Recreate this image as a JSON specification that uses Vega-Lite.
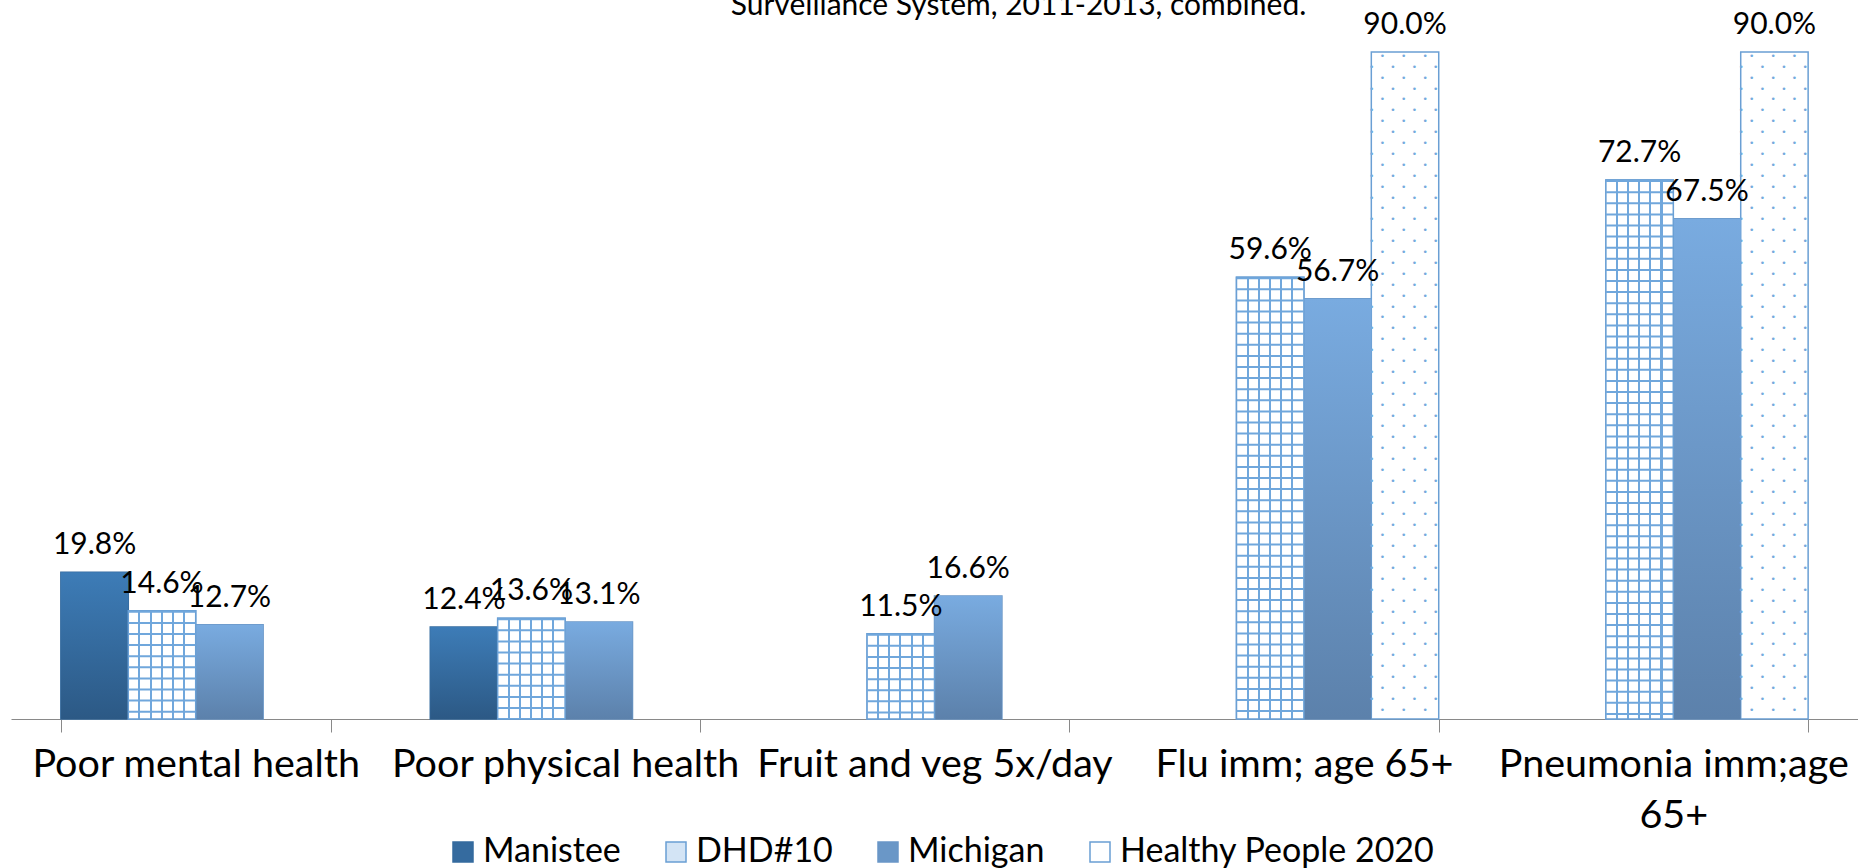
{
  "$schema": "https://vega.github.io/schema/vega-lite/v6.json",
  "width": 1847,
  "height": 719,
  "autosize": {"type": "none"},
  "padding": {"left": 11, "top": 0, "right": 0, "bottom": 149},
  "background": "white",
  "title": {"text": "Surveillance System, 2011-2013, combined.", "font": "Lato", "fontSize": 30, "fontWeight": "normal", "color": "black", "anchor": "middle", "dx": 84, "offset": -45, "baseline": "alphabetic"},
  "config": {
    "view": {"stroke": null},
    "font": "Lato",
    "legend": {"orient": "none", "legendX": 435, "legendY": 835, "direction": "horizontal", "title": null, "symbolType": "square", "symbolSize": 400, "labelFontSize": 34, "labelFont": "Lato", "labelColor": "black", "columnPadding": 38, "labelOffset": 3, "symbolStrokeWidth": 1.5, "labelLimit": 0}
  },
  "data": {"values": [
    {"category": "Poor mental health", "series": "Manistee", "value": 0.198},
    {"category": "Poor mental health", "series": "DHD#10", "value": 0.146},
    {"category": "Poor mental health", "series": "Michigan", "value": 0.127},
    {"category": "Poor physical health", "series": "Manistee", "value": 0.124},
    {"category": "Poor physical health", "series": "DHD#10", "value": 0.136},
    {"category": "Poor physical health", "series": "Michigan", "value": 0.131},
    {"category": "Fruit and veg 5x/day", "series": "DHD#10", "value": 0.115},
    {"category": "Fruit and veg 5x/day", "series": "Michigan", "value": 0.166},
    {"category": "Flu imm; age 65+", "series": "DHD#10", "value": 0.596},
    {"category": "Flu imm; age 65+", "series": "Michigan", "value": 0.567},
    {"category": "Flu imm; age 65+", "series": "Healthy People 2020", "value": 0.9},
    {"category": "Pneumonia imm;age 65+", "series": "DHD#10", "value": 0.727},
    {"category": "Pneumonia imm;age 65+", "series": "Michigan", "value": 0.675},
    {"category": "Pneumonia imm;age 65+", "series": "Healthy People 2020", "value": 0.9}
  ]},
  "encoding": {
    "x": {"field": "category", "type": "nominal", "title": null,
      "sort": ["Poor mental health", "Poor physical health", "Fruit and veg 5x/day", "Flu imm; age 65+", "Pneumonia imm;age 65+"],
      "scale": {"paddingInner": 0.27, "paddingOuter": 0.135},
      "axis": {"labelAngle": 0, "labelFont": "Lato", "labelFontSize": 39.5, "labelColor": "black", "labelPadding": 13, "labelLineHeight": 51, "labelBaseline": "top", "labelLimit": 600, "tickBand": "extent", "tickColor": "#898989", "tickSize": 13, "domainColor": "#898989", "labelExpr": "datum.value == 'Pneumonia imm;age 65+' ? ['Pneumonia imm;age', '65+'] : datum.label"}},
    "xOffset": {"field": "series", "type": "nominal", "scale": {"domain": ["Manistee", "DHD#10", "Michigan", "Healthy People 2020"]}},
    "y": {"field": "value", "type": "quantitative", "scale": {"domain": [0, 0.97]}, "axis": null}
  },
  "layer": [
    {
      "mark": {"type": "bar", "strokeWidth": 1.5},
      "encoding": {
        "fill": {"field": "series", "type": "nominal", "scale": {"domain": ["Manistee", "DHD#10", "Michigan", "Healthy People 2020"], "range": ["#356B9F", "#D3E4F5", "#6A97C7", "#ffffff"]}},
        "stroke": {"field": "series", "type": "nominal", "scale": {"domain": ["Manistee", "DHD#10", "Michigan", "Healthy People 2020"], "range": ["#356B9F", "#6A9FD4", "#6A97C7", "#6A9FD4"]}}
      }
    },
    {
      "transform": [{"filter": "datum.series === 'Manistee'"}],
      "mark": {"type": "bar", "fill": {"gradient": "linear", "x1": 1, "y1": 0, "x2": 1, "y2": 1, "stops": [{"offset": 0, "color": "#3D7CB7"}, {"offset": 1, "color": "#2C5985"}]}}
    },
    {
      "transform": [{"filter": "datum.series === 'Michigan'"}],
      "mark": {"type": "bar", "fill": {"gradient": "linear", "x1": 1, "y1": 0, "x2": 1, "y2": 1, "stops": [{"offset": 0, "color": "#79ABE0"}, {"offset": 1, "color": "#5C81AB"}]}}
    },
    {
      "transform": [{"filter": "datum.series === 'DHD#10'"}],
      "mark": {"type": "bar", "stroke": "#6A9FD4", "strokeWidth": 1.5, "fill": {"gradient": "linear", "x1": 0, "y1": 0, "x2": 1, "y2": 0, "stops": [
            {"offset": 0, "color": "#ffffff"},
            {"offset": 0.15, "color": "#ffffff"}, {"offset": 0.15, "color": "#70A7DC"}, {"offset": 0.18, "color": "#70A7DC"}, {"offset": 0.18, "color": "#ffffff"},
            {"offset": 0.315, "color": "#ffffff"}, {"offset": 0.315, "color": "#70A7DC"}, {"offset": 0.345, "color": "#70A7DC"}, {"offset": 0.345, "color": "#ffffff"},
            {"offset": 0.48, "color": "#ffffff"}, {"offset": 0.48, "color": "#70A7DC"}, {"offset": 0.51, "color": "#70A7DC"}, {"offset": 0.51, "color": "#ffffff"},
            {"offset": 0.645, "color": "#ffffff"}, {"offset": 0.645, "color": "#70A7DC"}, {"offset": 0.675, "color": "#70A7DC"}, {"offset": 0.675, "color": "#ffffff"},
            {"offset": 0.81, "color": "#ffffff"}, {"offset": 0.81, "color": "#70A7DC"}, {"offset": 0.84, "color": "#70A7DC"}, {"offset": 0.84, "color": "#ffffff"},
            {"offset": 1, "color": "#ffffff"}]}}
    },
    {
      "transform": [{"filter": "datum.series === 'DHD#10'"}],
      "mark": {"type": "rule", "strokeWidth": 67, "strokeDash": [2, 9.1], "stroke": "#70A7DC"},
      "encoding": {"y2": {"datum": 0}}
    },
    {
      "transform": [{"filter": "datum.series === 'Healthy People 2020'"}],
      "mark": {"type": "text", "font": "DejaVu Sans Mono", "fontSize": 8.9, "lineHeight": 10.9, "baseline": "top", "align": "center", "color": "#74AADD", "dx": -1.3, "dy": 0,
        "text": [
          "•\u00a0\u00a0\u00a0•\u00a0\u00a0\u00a0•", "•\u00a0\u00a0\u00a0•\u00a0\u00a0\u00a0•\u00a0\u00a0\u00a0•",
          "•\u00a0\u00a0\u00a0•\u00a0\u00a0\u00a0•", "•\u00a0\u00a0\u00a0•\u00a0\u00a0\u00a0•\u00a0\u00a0\u00a0•",
          "•\u00a0\u00a0\u00a0•\u00a0\u00a0\u00a0•", "•\u00a0\u00a0\u00a0•\u00a0\u00a0\u00a0•\u00a0\u00a0\u00a0•",
          "•\u00a0\u00a0\u00a0•\u00a0\u00a0\u00a0•", "•\u00a0\u00a0\u00a0•\u00a0\u00a0\u00a0•\u00a0\u00a0\u00a0•",
          "•\u00a0\u00a0\u00a0•\u00a0\u00a0\u00a0•", "•\u00a0\u00a0\u00a0•\u00a0\u00a0\u00a0•\u00a0\u00a0\u00a0•",
          "•\u00a0\u00a0\u00a0•\u00a0\u00a0\u00a0•", "•\u00a0\u00a0\u00a0•\u00a0\u00a0\u00a0•\u00a0\u00a0\u00a0•",
          "•\u00a0\u00a0\u00a0•\u00a0\u00a0\u00a0•", "•\u00a0\u00a0\u00a0•\u00a0\u00a0\u00a0•\u00a0\u00a0\u00a0•",
          "•\u00a0\u00a0\u00a0•\u00a0\u00a0\u00a0•", "•\u00a0\u00a0\u00a0•\u00a0\u00a0\u00a0•\u00a0\u00a0\u00a0•",
          "•\u00a0\u00a0\u00a0•\u00a0\u00a0\u00a0•", "•\u00a0\u00a0\u00a0•\u00a0\u00a0\u00a0•\u00a0\u00a0\u00a0•",
          "•\u00a0\u00a0\u00a0•\u00a0\u00a0\u00a0•", "•\u00a0\u00a0\u00a0•\u00a0\u00a0\u00a0•\u00a0\u00a0\u00a0•",
          "•\u00a0\u00a0\u00a0•\u00a0\u00a0\u00a0•", "•\u00a0\u00a0\u00a0•\u00a0\u00a0\u00a0•\u00a0\u00a0\u00a0•",
          "•\u00a0\u00a0\u00a0•\u00a0\u00a0\u00a0•", "•\u00a0\u00a0\u00a0•\u00a0\u00a0\u00a0•\u00a0\u00a0\u00a0•",
          "•\u00a0\u00a0\u00a0•\u00a0\u00a0\u00a0•", "•\u00a0\u00a0\u00a0•\u00a0\u00a0\u00a0•\u00a0\u00a0\u00a0•",
          "•\u00a0\u00a0\u00a0•\u00a0\u00a0\u00a0•", "•\u00a0\u00a0\u00a0•\u00a0\u00a0\u00a0•\u00a0\u00a0\u00a0•",
          "•\u00a0\u00a0\u00a0•\u00a0\u00a0\u00a0•", "•\u00a0\u00a0\u00a0•\u00a0\u00a0\u00a0•\u00a0\u00a0\u00a0•",
          "•\u00a0\u00a0\u00a0•\u00a0\u00a0\u00a0•", "•\u00a0\u00a0\u00a0•\u00a0\u00a0\u00a0•\u00a0\u00a0\u00a0•",
          "•\u00a0\u00a0\u00a0•\u00a0\u00a0\u00a0•", "•\u00a0\u00a0\u00a0•\u00a0\u00a0\u00a0•\u00a0\u00a0\u00a0•",
          "•\u00a0\u00a0\u00a0•\u00a0\u00a0\u00a0•", "•\u00a0\u00a0\u00a0•\u00a0\u00a0\u00a0•\u00a0\u00a0\u00a0•",
          "•\u00a0\u00a0\u00a0•\u00a0\u00a0\u00a0•", "•\u00a0\u00a0\u00a0•\u00a0\u00a0\u00a0•\u00a0\u00a0\u00a0•",
          "•\u00a0\u00a0\u00a0•\u00a0\u00a0\u00a0•", "•\u00a0\u00a0\u00a0•\u00a0\u00a0\u00a0•\u00a0\u00a0\u00a0•",
          "•\u00a0\u00a0\u00a0•\u00a0\u00a0\u00a0•", "•\u00a0\u00a0\u00a0•\u00a0\u00a0\u00a0•\u00a0\u00a0\u00a0•",
          "•\u00a0\u00a0\u00a0•\u00a0\u00a0\u00a0•", "•\u00a0\u00a0\u00a0•\u00a0\u00a0\u00a0•\u00a0\u00a0\u00a0•",
          "•\u00a0\u00a0\u00a0•\u00a0\u00a0\u00a0•", "•\u00a0\u00a0\u00a0•\u00a0\u00a0\u00a0•\u00a0\u00a0\u00a0•",
          "•\u00a0\u00a0\u00a0•\u00a0\u00a0\u00a0•", "•\u00a0\u00a0\u00a0•\u00a0\u00a0\u00a0•\u00a0\u00a0\u00a0•",
          "•\u00a0\u00a0\u00a0•\u00a0\u00a0\u00a0•", "•\u00a0\u00a0\u00a0•\u00a0\u00a0\u00a0•\u00a0\u00a0\u00a0•",
          "•\u00a0\u00a0\u00a0•\u00a0\u00a0\u00a0•", "•\u00a0\u00a0\u00a0•\u00a0\u00a0\u00a0•\u00a0\u00a0\u00a0•",
          "•\u00a0\u00a0\u00a0•\u00a0\u00a0\u00a0•", "•\u00a0\u00a0\u00a0•\u00a0\u00a0\u00a0•\u00a0\u00a0\u00a0•",
          "•\u00a0\u00a0\u00a0•\u00a0\u00a0\u00a0•", "•\u00a0\u00a0\u00a0•\u00a0\u00a0\u00a0•\u00a0\u00a0\u00a0•",
          "•\u00a0\u00a0\u00a0•\u00a0\u00a0\u00a0•", "•\u00a0\u00a0\u00a0•\u00a0\u00a0\u00a0•\u00a0\u00a0\u00a0•",
          "•\u00a0\u00a0\u00a0•\u00a0\u00a0\u00a0•", "•\u00a0\u00a0\u00a0•\u00a0\u00a0\u00a0•\u00a0\u00a0\u00a0•",
          "•\u00a0\u00a0\u00a0•\u00a0\u00a0\u00a0•"
        ]}
    },
    {
      "mark": {"type": "text", "baseline": "alphabetic", "dy": -18, "fontSize": 30, "font": "Lato", "color": "black"},
      "encoding": {"text": {"field": "value", "type": "quantitative", "format": ".1%"}}
    }
  ]
}
